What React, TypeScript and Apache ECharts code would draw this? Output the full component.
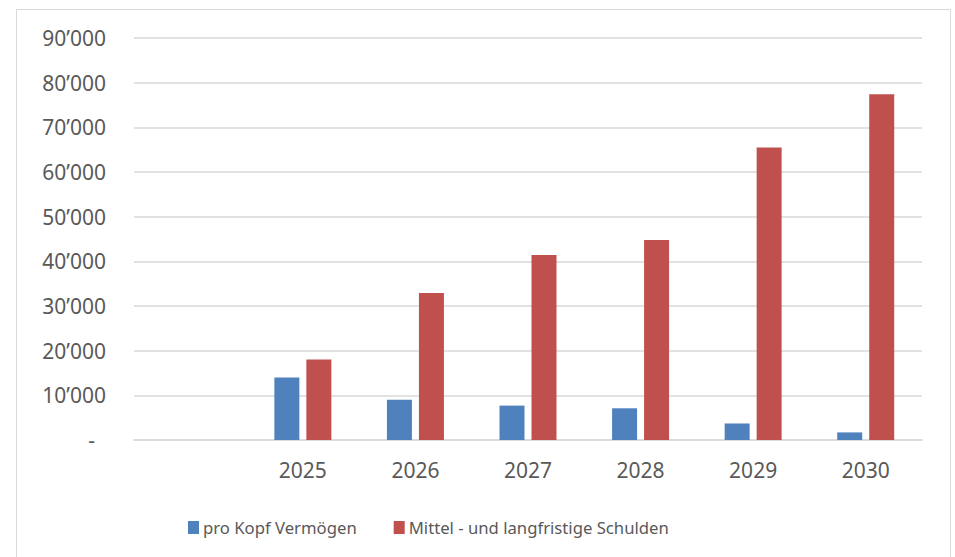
import React, { useEffect, useRef } from "react";
import * as echarts from "echarts";

const categories = ["", "2025", "2026", "2027", "2028", "2029", "2030"];
const vermoegen = [null, 14000, 9000, 7700, 7100, 3700, 1700];
const schulden = [null, 18000, 32900, 41400, 44800, 65500, 77400];
const seriesNames = ["pro Kopf Vermögen", "Mittel - und langfristige Schulden"];

const FONT = "'Noto Sans', 'Open Sans', sans-serif";

function fmt(v: number): string {
  if (v === 0) return "{d|-}";
  const s = Math.round(v).toString();
  return s.replace(/\B(?=(\d{3})+(?!\d))/g, "\u2019");
}

export default function App() {
  const ref = useRef<HTMLDivElement>(null);
  useEffect(() => {
    if (!ref.current) return;
    const chart = echarts.init(ref.current, undefined, { renderer: "svg" });
    chart.setOption({
      animation: false,
      backgroundColor: "#ffffff",
      graphic: [
        {
          type: "rect",
          shape: { x: 16.5, y: 9.5, width: 934, height: 560 },
          style: { fill: "none", stroke: "#d9d9d9", lineWidth: 1 },
          silent: true,
        },
      ],
      grid: { left: 134, right: 33, top: 38, bottom: 117, containLabel: false },
      legend: {
        left: 183,
        top: 514,
        itemWidth: 11,
        itemHeight: 13,
        itemGap: 37,
        icon: "rect",
        textStyle: { fontFamily: FONT, fontSize: 16.7, color: "#595959", padding: [0, 0, 0, -1] },
        data: seriesNames,
      },
      xAxis: {
        type: "category",
        data: categories,
        axisLine: { lineStyle: { color: "#d9d9d9", width: 1.5 } },
        axisTick: { show: false },
        axisLabel: { fontFamily: FONT, fontSize: 21, color: "#595959", margin: 19 },
      },
      yAxis: {
        type: "value",
        min: 0,
        max: 90000,
        interval: 10000,
        axisLine: { show: false },
        axisTick: { show: false },
        splitLine: { lineStyle: { color: "#d9d9d9", width: 1.5 } },
        axisLabel: {
          fontFamily: FONT,
          fontSize: 21,
          color: "#595959",
          margin: 28,
          formatter: fmt,
          rich: { d: { fontFamily: FONT, fontSize: 21, color: "#595959", padding: [0, 11, 0, 0] } },
        },
      },
      series: [
        {
          name: seriesNames[0],
          type: "bar",
          data: vermoegen,
          barWidth: 25,
          barGap: "28%",
          itemStyle: { color: "#4f81bd" },
        },
        {
          name: seriesNames[1],
          type: "bar",
          data: schulden,
          barWidth: 25,
          barGap: "28%",
          itemStyle: { color: "#c0504d" },
        },
      ],
    });
    return () => chart.dispose();
  }, []);
  return (
    <div
      ref={ref}
      style={{ position: "fixed", left: 0, top: 0, width: 955, height: 557 }}
    />
  );
}
